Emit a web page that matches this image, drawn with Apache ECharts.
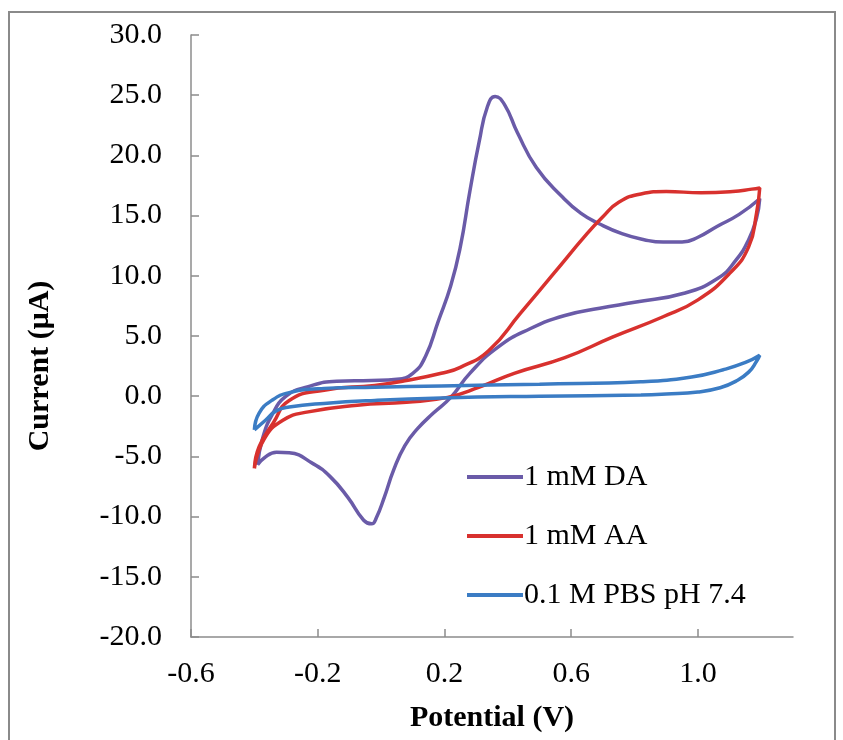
<!DOCTYPE html>
<html>
<head>
<meta charset="utf-8">
<style>html,body{margin:0;padding:0;background:#fff;}#chart{width:843px;height:740px;}</style>
<script src="https://cdn.jsdelivr.net/npm/echarts@6/dist/echarts.min.js"></script>
</head>
<body>
<div id="chart"></div>
<script>
// Series names
var seriesNames = ['1 mM DA', '1 mM AA', '0.1 M PBS pH 7.4'];
// X tick labels
var xTicks = [-0.6, -0.2, 0.2, 0.6, 1.0];

// 1 mM DA (forward then reverse scan)
var daPotential = [-0.39,-0.375,-0.345,-0.30,-0.23,-0.14,-0.03,0.05,0.10,0.14,0.18,0.22,0.25,0.28,0.31,0.335,0.36,0.39,0.43,0.49,0.57,0.63,0.69,0.76,0.83,0.89,0.95,1.00,1.06,1.13,1.195,
  1.185,1.16,1.12,1.063,0.956,0.80,0.69,0.58,0.47,0.37,0.28,0.22,0.165,0.115,0.075,0.04,0.01,-0.015,-0.03,-0.055,-0.105,-0.16,-0.215,-0.29,-0.33,-0.37,-0.39];
var daCurrent = [-5.7,-3.6,-1.6,0.0,0.8,1.25,1.3,1.4,1.9,3.3,6.2,9.2,12.4,17.0,21.2,24.0,24.9,24.2,21.9,19.0,16.6,15.2,14.3,13.5,13.0,12.8,12.8,13.2,14.1,15.1,16.4,
  14.8,13.0,11.3,9.8,8.55,7.8,7.3,6.7,5.6,4.1,1.9,-0.1,-1.4,-2.7,-4.1,-6.1,-8.4,-10.1,-10.6,-10.3,-8.4,-6.7,-5.6,-4.7,-4.65,-5.15,-5.7];

// 1 mM AA
var aaPotential = [-0.40,-0.385,-0.34,-0.29,-0.18,-0.02,0.08,0.19,0.25,0.34,0.44,0.545,0.65,0.70,0.75,0.82,0.90,1.01,1.11,1.17,1.195,
  1.185,1.16,1.10,1.00,0.89,0.73,0.58,0.42,0.31,0.21,0.08,-0.075,-0.23,-0.31,-0.37,-0.40];
var aaCurrent = [-6.0,-4.2,-2.2,-0.35,0.5,0.9,1.3,1.9,2.4,3.8,6.9,10.2,13.5,14.9,16.1,16.8,17.0,16.9,17.0,17.2,17.3,
  15.2,12.4,10.2,8.0,6.6,4.9,3.2,1.9,0.75,-0.1,-0.5,-0.75,-1.3,-2.0,-3.6,-6.0];

// 0.1 M PBS pH 7.4
var pbsPotential = [-0.40,-0.385,-0.345,-0.29,-0.18,-0.02,0.19,0.50,0.82,0.98,1.08,1.15,1.195,
  1.185,1.16,1.12,1.07,1.0,0.9,0.82,0.50,0.19,-0.02,-0.18,-0.29,-0.33,-0.365,-0.40];
var pbsCurrent = [-2.8,-1.4,-0.35,0.3,0.65,0.75,0.85,1.0,1.2,1.6,2.2,2.8,3.4,
  2.9,2.0,1.25,0.7,0.35,0.18,0.1,0.0,-0.15,-0.35,-0.6,-0.9,-1.2,-2.0,-2.8];

function zip(xs, ys) { return xs.map(function (x, i) { return [x, ys[i]]; }); }

var colors = ['#6A5BA8', '#D8312E', '#3B7CC4'];
var serif = '"Liberation Serif", "Times New Roman", serif';

var chart = echarts.init(document.getElementById('chart'), null, { renderer: 'canvas' });
function lineSeries(name, data, color) {
  return {
    name: name, type: 'line', data: data, smooth: 0.5, symbol: 'none',
    lineStyle: { color: color, width: 3.5 }, itemStyle: { color: color }
  };
}
chart.setOption({
  animation: false,
  backgroundColor: '#fff',
  grid: { left: 191, right: 50, top: 35, bottom: 103 },
  xAxis: {
    type: 'value', min: -0.6, max: 1.3,
    name: 'Potential (V)', nameLocation: 'middle', nameGap: 66,
    nameTextStyle: { fontFamily: serif, fontWeight: 'bold', fontSize: 30, color: '#000' },
    axisLine: { onZero: false, lineStyle: { color: '#8c8c8c', width: 1.5 } },
    axisTick: { inside: true, length: 8, customValues: xTicks, lineStyle: { color: '#8c8c8c', width: 1.5 } },
    axisLabel: { customValues: xTicks, margin: 22, fontFamily: serif, fontSize: 30, color: '#000',
      formatter: function (v) { return v.toFixed(1); } },
    splitLine: { show: false }
  },
  yAxis: {
    type: 'value', min: -20, max: 30, interval: 5,
    axisLine: { show: true, onZero: false, lineStyle: { color: '#8c8c8c', width: 1.5 } },
    axisTick: { show: true, inside: true, length: 8, lineStyle: { color: '#8c8c8c', width: 1.5 } },
    axisLabel: { margin: 29, fontFamily: serif, fontSize: 30, color: '#000',
      formatter: function (v) { return v.toFixed(1); } },
    splitLine: { show: false }
  },
  legend: {
    orient: 'vertical', left: 462, top: 457,
    icon: 'rect', itemWidth: 56, itemHeight: 4, itemGap: 29,
    textStyle: { fontFamily: serif, fontSize: 30, color: '#000', lineHeight: 30, padding: [0, 0, 0, -4] },
    data: seriesNames
  },
  graphic: [
    { type: 'rect', shape: { x: 9, y: 12, width: 826, height: 740 },
      style: { fill: 'none', stroke: '#8a8a8a', lineWidth: 2 }, silent: true, z: -1 },
    { type: 'text', x: 40, y: 366, rotation: Math.PI / 2,
      style: { text: 'Current (μA)', font: 'bold 30px ' + serif, fill: '#000', align: 'center', verticalAlign: 'middle' } }
  ],
  series: [
    lineSeries(seriesNames[0], zip(daPotential, daCurrent), colors[0]),
    lineSeries(seriesNames[1], zip(aaPotential, aaCurrent), colors[1]),
    lineSeries(seriesNames[2], zip(pbsPotential, pbsCurrent), colors[2])
  ]
});
</script>
</body>
</html>
